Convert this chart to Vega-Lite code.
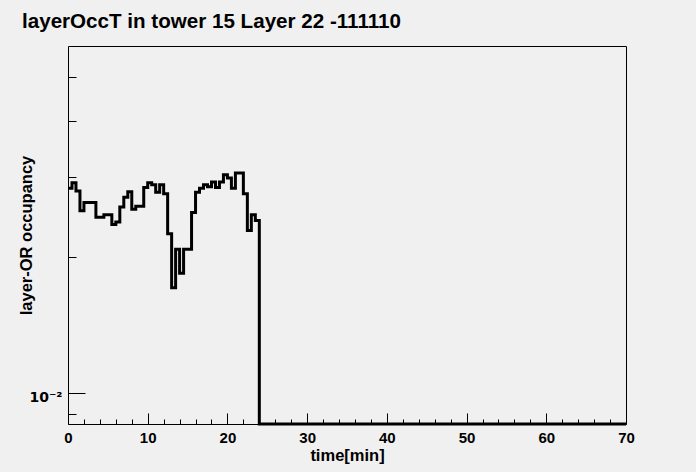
{
  "$schema": "https://vega.github.io/schema/vega-lite/v6.json",
  "width": 558,
  "height": 378,
  "autosize": "none",
  "padding": {"left": 68, "top": 46, "right": 70, "bottom": 48},
  "background": "#f0f0f0",
  "title": {
    "text": "layerOccT in tower 15 Layer 22 -111110",
    "anchor": "start",
    "frame": "group",
    "dx": -46,
    "offset": 13,
    "font": "Liberation Sans",
    "fontSize": 20.6,
    "fontWeight": "bold",
    "color": "black"
  },
  "config": {
    "view": {"stroke": "black", "strokeWidth": 1, "fill": "#f0f0f0"},
    "axis": {
      "domain": false,
      "grid": false,
      "tickColor": "black",
      "tickWidth": 1,
      "labelFont": "Liberation Sans",
      "labelFontSize": 15,
      "labelFontWeight": "bold",
      "labelColor": "black",
      "titleFont": "Liberation Sans",
      "titleFontSize": 16.5,
      "titleFontWeight": "bold",
      "titleColor": "black"
    }
  },
  "data": {
    "values": [
      {"t": 0, "v": 0.0284}, {"t": 0.5, "v": 0.0292}, {"t": 1, "v": 0.028}, {"t": 1.5, "v": 0.0253},
      {"t": 2, "v": 0.0264}, {"t": 2.5, "v": 0.0264}, {"t": 3, "v": 0.0264}, {"t": 3.5, "v": 0.0245},
      {"t": 4, "v": 0.0245}, {"t": 4.5, "v": 0.0248}, {"t": 5, "v": 0.0248}, {"t": 5.5, "v": 0.0236},
      {"t": 6, "v": 0.0239}, {"t": 6.5, "v": 0.0258}, {"t": 7, "v": 0.0271}, {"t": 7.5, "v": 0.0279},
      {"t": 8, "v": 0.0255}, {"t": 8.5, "v": 0.0259}, {"t": 9, "v": 0.0259}, {"t": 9.5, "v": 0.0285},
      {"t": 10, "v": 0.0292}, {"t": 10.5, "v": 0.0289}, {"t": 11, "v": 0.0278}, {"t": 11.5, "v": 0.0289},
      {"t": 12, "v": 0.0276}, {"t": 12.5, "v": 0.0225}, {"t": 13, "v": 0.0171}, {"t": 13.5, "v": 0.0208},
      {"t": 14, "v": 0.0184}, {"t": 14.5, "v": 0.0208}, {"t": 15, "v": 0.0208}, {"t": 15.5, "v": 0.0251},
      {"t": 16, "v": 0.0278}, {"t": 16.5, "v": 0.0284}, {"t": 17, "v": 0.0289}, {"t": 17.5, "v": 0.0286},
      {"t": 18, "v": 0.0293}, {"t": 18.5, "v": 0.0285}, {"t": 19, "v": 0.0293}, {"t": 19.5, "v": 0.0304},
      {"t": 20, "v": 0.0299}, {"t": 20.5, "v": 0.0284}, {"t": 21, "v": 0.0307}, {"t": 21.5, "v": 0.0307},
      {"t": 22, "v": 0.0276}, {"t": 22.5, "v": 0.0229}, {"t": 23, "v": 0.0248}, {"t": 23.5, "v": 0.0241},
      {"t": 24, "v": 0}, {"t": 24.5, "v": 0}, {"t": 25, "v": 0}, {"t": 25.5, "v": 0},
      {"t": 26, "v": 0}, {"t": 26.5, "v": 0}, {"t": 27, "v": 0}, {"t": 27.5, "v": 0},
      {"t": 28, "v": 0}, {"t": 28.5, "v": 0}, {"t": 29, "v": 0}, {"t": 29.5, "v": 0},
      {"t": 30, "v": 0}, {"t": 30.5, "v": 0}, {"t": 31, "v": 0}, {"t": 31.5, "v": 0},
      {"t": 32, "v": 0}, {"t": 32.5, "v": 0}, {"t": 33, "v": 0}, {"t": 33.5, "v": 0},
      {"t": 34, "v": 0}, {"t": 34.5, "v": 0}, {"t": 35, "v": 0}, {"t": 35.5, "v": 0},
      {"t": 36, "v": 0}, {"t": 36.5, "v": 0}, {"t": 37, "v": 0}, {"t": 37.5, "v": 0},
      {"t": 38, "v": 0}, {"t": 38.5, "v": 0}, {"t": 39, "v": 0}, {"t": 39.5, "v": 0},
      {"t": 40, "v": 0}, {"t": 40.5, "v": 0}, {"t": 41, "v": 0}, {"t": 41.5, "v": 0},
      {"t": 42, "v": 0}, {"t": 42.5, "v": 0}, {"t": 43, "v": 0}, {"t": 43.5, "v": 0},
      {"t": 44, "v": 0}, {"t": 44.5, "v": 0}, {"t": 45, "v": 0}, {"t": 45.5, "v": 0},
      {"t": 46, "v": 0}, {"t": 46.5, "v": 0}, {"t": 47, "v": 0}, {"t": 47.5, "v": 0},
      {"t": 48, "v": 0}, {"t": 48.5, "v": 0}, {"t": 49, "v": 0}, {"t": 49.5, "v": 0},
      {"t": 50, "v": 0}, {"t": 50.5, "v": 0}, {"t": 51, "v": 0}, {"t": 51.5, "v": 0},
      {"t": 52, "v": 0}, {"t": 52.5, "v": 0}, {"t": 53, "v": 0}, {"t": 53.5, "v": 0},
      {"t": 54, "v": 0}, {"t": 54.5, "v": 0}, {"t": 55, "v": 0}, {"t": 55.5, "v": 0},
      {"t": 56, "v": 0}, {"t": 56.5, "v": 0}, {"t": 57, "v": 0}, {"t": 57.5, "v": 0},
      {"t": 58, "v": 0}, {"t": 58.5, "v": 0}, {"t": 59, "v": 0}, {"t": 59.5, "v": 0},
      {"t": 60, "v": 0}, {"t": 60.5, "v": 0}, {"t": 61, "v": 0}, {"t": 61.5, "v": 0},
      {"t": 62, "v": 0}, {"t": 62.5, "v": 0}, {"t": 63, "v": 0}, {"t": 63.5, "v": 0},
      {"t": 64, "v": 0}, {"t": 64.5, "v": 0}, {"t": 65, "v": 0}, {"t": 65.5, "v": 0},
      {"t": 66, "v": 0}, {"t": 66.5, "v": 0}, {"t": 67, "v": 0}, {"t": 67.5, "v": 0},
      {"t": 68, "v": 0}, {"t": 68.5, "v": 0}, {"t": 69, "v": 0}, {"t": 69.5, "v": 0},
      {"t": 70, "v": 0}
    ]
  },
  "mark": {"type": "line", "interpolate": "step-after", "color": "black", "strokeWidth": 3, "invalid": "show"},
  "encoding": {
    "x": {
      "field": "t",
      "type": "quantitative",
      "scale": {"domain": [0, 70], "nice": false, "zero": false},
      "axis": {
        "title": "time[min]",
        "titlePadding": -4,
        "values": [0, 2, 4, 6, 8, 10, 12, 14, 16, 18, 20, 22, 24, 26, 28, 30, 32, 34, 36, 38, 40, 42, 44, 46, 48, 50, 52, 54, 56, 58, 60, 62, 64, 66, 68, 70],
        "labelExpr": "datum.value % 10 === 0 ? datum.label : ''",
        "tickSize": {"condition": {"test": "datum.value % 10 === 0", "value": -11}, "value": -5},
        "labelPadding": 17,
        "labelFlush": false,
        "labelOverlap": false
      }
    },
    "y": {
      "field": "v",
      "type": "quantitative",
      "scale": {"type": "log", "domain": [0.00854, 0.0586], "nice": false, "clamp": true},
      "axis": {
        "title": "layer-OR occupancy",
        "values": [0.009, 0.01, 0.02, 0.03, 0.04, 0.05],
        "labelExpr": "datum.value === 0.01 ? '10⁻²' : ''",
        "labelFont": "DejaVu Sans",
        "labelFontSize": 14,
        "labelBaseline": "alphabetic",
        "labelOffset": 8,
        "tickSize": {"condition": {"test": "datum.value === 0.01", "value": -17}, "value": -8},
        "labelPadding": 23,
        "labelOverlap": false,
        "titlePadding": -6
      }
    }
  }
}
